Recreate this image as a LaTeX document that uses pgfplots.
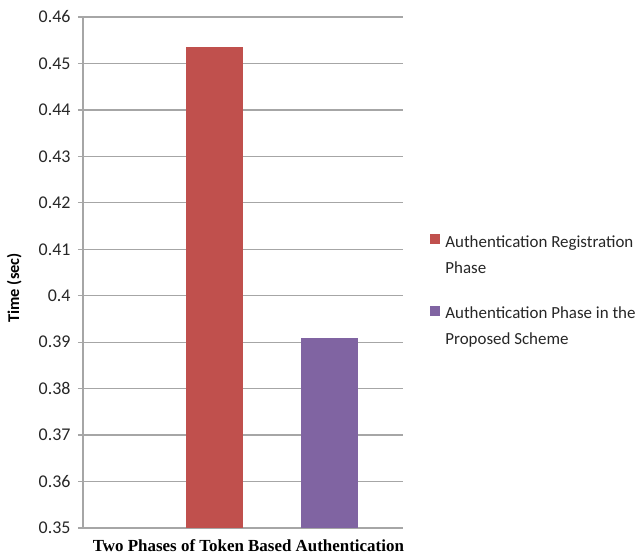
\documentclass[border=0pt]{standalone}
\usepackage{pgfplots}
\pgfplotsset{compat=1.18}
\usepackage{fontspec}
\setmainfont{Carlito}
\newfontfamily\tnr{Liberation Serif}
\definecolor{cred}{HTML}{C0504D}
\definecolor{cpurple}{HTML}{8064A2}
\definecolor{cgrid}{HTML}{A6A6A6}
\begin{document}
\begin{tikzpicture}
\useasboundingbox (0,0) rectangle (636bp,558bp);
\begin{axis}[
  at={(83bp,30bp)}, anchor=south west,
  scale only axis, width=320bp, height=511bp,
  xmin=0, xmax=320, ymin=0.35, ymax=0.46,
  xtick=\empty,
  ytick={0.35,0.36,0.37,0.38,0.39,0.40,0.41,0.42,0.43,0.44,0.45,0.46},
  yticklabels={0.35,0.36,0.37,0.38,0.39,0.4,0.41,0.42,0.43,0.44,0.45,0.46},
  ymajorgrids, grid style={cgrid, line width=1.2bp},
  axis lines*=left,
  axis line style={cgrid, line width=1.2bp, -},
  y tick style={cgrid, line width=1.2bp},
  tick align=outside, major tick length=5bp,
  yticklabel style={font=\fontsize{18}{18}\selectfont, text=black!85, xshift=-4bp},
  /pgf/number format/assume math mode=true,
  xlabel={\tnr\bfseries Two Phases of Token Based Authentication},
  xlabel style={font=\fontsize{17}{17}\selectfont, at={(axis description cs:0.517,0)}, anchor=center, yshift=-18bp},
  ylabel={\bfseries Time (sec)},
  ylabel style={font=\fontsize{16.5}{16.5}\selectfont, at={(axis description cs:-0.215,0.47)}, anchor=center},
  legend style={at={(axis description cs:1.0756,0.58)}, anchor=north west, draw=none, fill=none,
    font=\fontsize{17}{26}\selectfont, nodes={align=left, text=black!85}, row sep=28bp},
  legend cell align=left,
  legend image code/.code={\fill[#1] (0bp,11bp) rectangle (10bp,21bp); \path (13bp,11bp);},
]
\addplot[ybar, bar width=57.6, bar shift=0pt, fill=cred, draw=none] coordinates {(131.5,0.4535)};
\addlegendentry{Authentication Registration\\Phase}
\addplot[ybar, bar width=57.6, bar shift=0pt, fill=cpurple, draw=none] coordinates {(246.5,0.3909)};
\addlegendentry{Authentication Phase in the\\Proposed Scheme}
\end{axis}
\end{tikzpicture}
\end{document}
